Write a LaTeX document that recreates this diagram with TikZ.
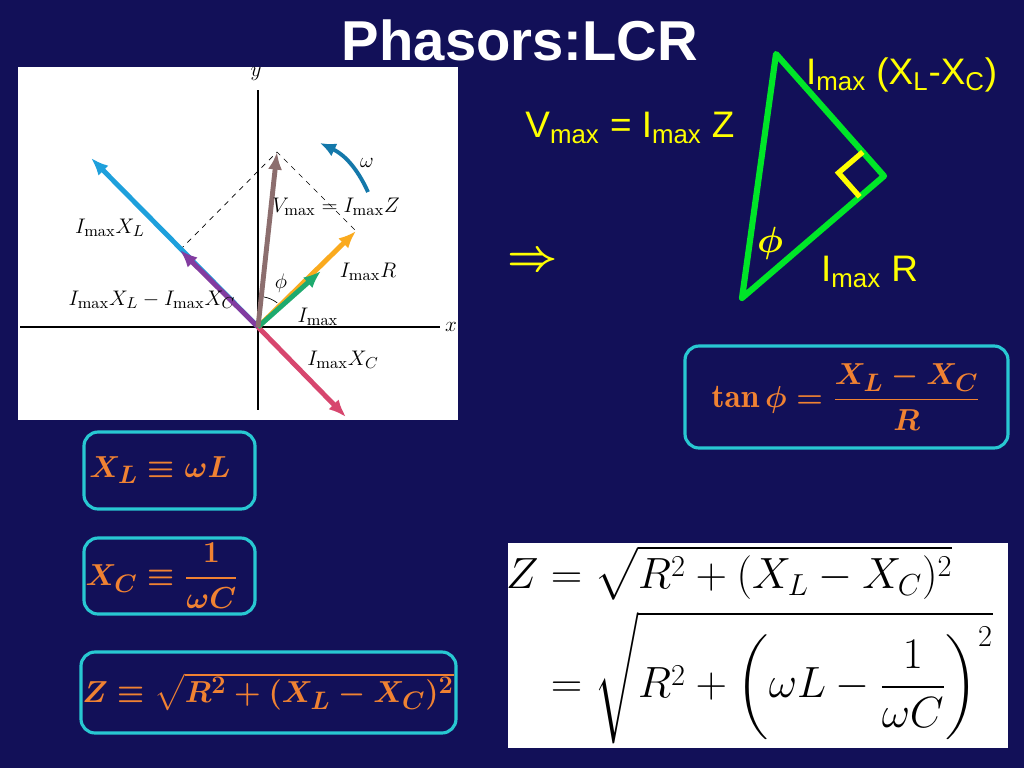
\documentclass[tikz,border=0pt]{standalone}
\usepackage{amsmath}
\usepackage{fontspec}
\setsansfont{Liberation Sans}
\usetikzlibrary{arrows.meta}
\definecolor{bg}{RGB}{18,16,88}
\definecolor{yel}{RGB}{255,255,0}
\definecolor{grn}{RGB}{0,230,40}
\definecolor{cy}{RGB}{40,200,210}
\definecolor{org}{RGB}{240,130,50}
\definecolor{pblue}{RGB}{30,160,220}
\definecolor{ppur}{RGB}{130,60,160}
\definecolor{pbrn}{RGB}{140,110,110}
\definecolor{porg}{RGB}{250,170,30}
\definecolor{pgrn}{RGB}{30,170,110}
\definecolor{ppink}{RGB}{215,70,110}
\definecolor{pomg}{RGB}{20,120,170}
\begin{document}
\begin{tikzpicture}[x=0.02cm,y=-0.02cm,
  vec/.style={line width=2.8pt,-{Latex[length=10pt,width=8pt]}},
  plab/.style={font=\fontsize{13}{15}\selectfont},
  ylab/.style={text=yel,font=\sffamily\fontsize{21}{24}\selectfont},
  fbox/.style={draw=cy,line width=1.8pt,rounded corners=8pt},
  fm/.style={text=org,font=\fontsize{19}{22}\selectfont\boldmath}]
\fill[bg] (0,0) rectangle (1024,768);
\node[text=white,font=\sffamily\bfseries\fontsize{32}{38}\selectfont] (title) at (520,40) {Phasors:LCR};
% phasor panel
\fill[white] (18,67) rectangle (458,420);
\coordinate (O) at (258,327);
\coordinate (yt) at (258,90); \coordinate (yb) at (258,410);
\coordinate (xl) at (20,327); \coordinate (xr) at (440,327);
\draw[thick] (yt) -- (yb); \draw[thick] (xl) -- (xr);
\node[plab] (ylbl) at (256,74) {$y$};
\node[plab] (xlbl) at (451,327) {$x$};
\coordinate (L) at (91,158); \coordinate (D) at (180,250);
\coordinate (V) at (277,152); \coordinate (R) at (356,231);
\coordinate (I) at (321,271); \coordinate (C) at (346,417);
\draw[dashed] (D) -- (V) -- (R);
\draw[vec,pblue] (O) -- (L);
\draw[vec,ppur] (O) -- (D);
\draw[vec,ppink] (O) -- (C);
\draw[vec,porg] (O) -- (R);
\draw[vec,pgrn] (O) -- (I);
\draw[vec,pbrn] (O) -- (V);
\coordinate (w1) at (368,192); \coordinate (w2) at (320,143);
\draw[pomg,line width=2.2pt,-{Latex[length=9pt,width=8pt]}] (w1) to[bend right=20] (w2);
\node[plab] (wl) at (367,163) {$\omega$};
\draw (264,297) arc[start angle=-80,end angle=-52,radius=30];
\node[plab] (lXL) at (110,228) {$I_{\max}X_L$};
\node[plab] (lV) at (336,207) {$V_{\max}=I_{\max}Z$};
\node[plab] (lR) at (368,272) {$I_{\max}R$};
\node[plab] (lphi) at (281,283) {$\phi$};
\node[plab] (lI) at (318,317) {$I_{\max}$};
\node[plab] (lD) at (152,300) {$I_{\max}X_L-I_{\max}X_C$};
\node[plab] (lC) at (343,360) {$I_{\max}X_C$};
% arrow
\node[text=yel,font=\fontsize{36}{40}\selectfont\boldmath] (impl) at (533,262) {$\Rightarrow$};
% triangle
\coordinate (ta) at (776,54); \coordinate (tb) at (884,176); \coordinate (tc) at (742,298);
\draw[grn,line width=3.5pt,line join=round] (ta) -- (tb) -- (tc) -- cycle;
\coordinate (s1) at (862.8,152.0); \coordinate (s2) at (838.5,172.8); \coordinate (s3) at (859.7,196.8);
\draw[yel,line width=3pt] (s1) -- (s2) -- (s3);
\node[ylab,anchor=west] (t1) at (800,75) {I\textsubscript{max} (X\textsubscript{L}-X\textsubscript{C})};
\node[ylab] (t2) at (630,128) {V\textsubscript{max} = I\textsubscript{max} Z};
\node[text=yel,font=\fontsize{22}{24}\selectfont\boldmath] (t3) at (770,243) {$\phi$};
\node[ylab,anchor=west] (t4) at (815,272) {I\textsubscript{max} R};
% formula boxes
\draw[fbox] (685,346) rectangle (1008,448);
\node[fm] (tanf) at (846,397) {$\tan\phi=\dfrac{X_L-X_C}{R}$};
\draw[fbox] (84,432) rectangle (255,509);
\node[fm] (xlf) at (160,470) {$X_L\equiv\omega L$};
\draw[fbox] (84,538) rectangle (255,614);
\node[fm] (xcf) at (162,576) {$X_C\equiv\dfrac{1}{\omega C}$};
\draw[fbox] (81,652) rectangle (456,733);
\node[fm] (zf) at (268,692) {$Z\equiv\sqrt{R^2+(X_L-X_C)^2}$};
% white box
\fill[white] (508,543) rectangle (1008,748);
\node[font=\fontsize{26}{30}\selectfont,anchor=west] (bigf) at (500,645) {$\begin{aligned}Z&=\sqrt{R^2+(X_L-X_C)^2}\\[0pt]&=\sqrt{R^2+\left(\omega L-\dfrac{1}{\omega C}\right)^2}\end{aligned}$};
\end{tikzpicture}
\end{document}
